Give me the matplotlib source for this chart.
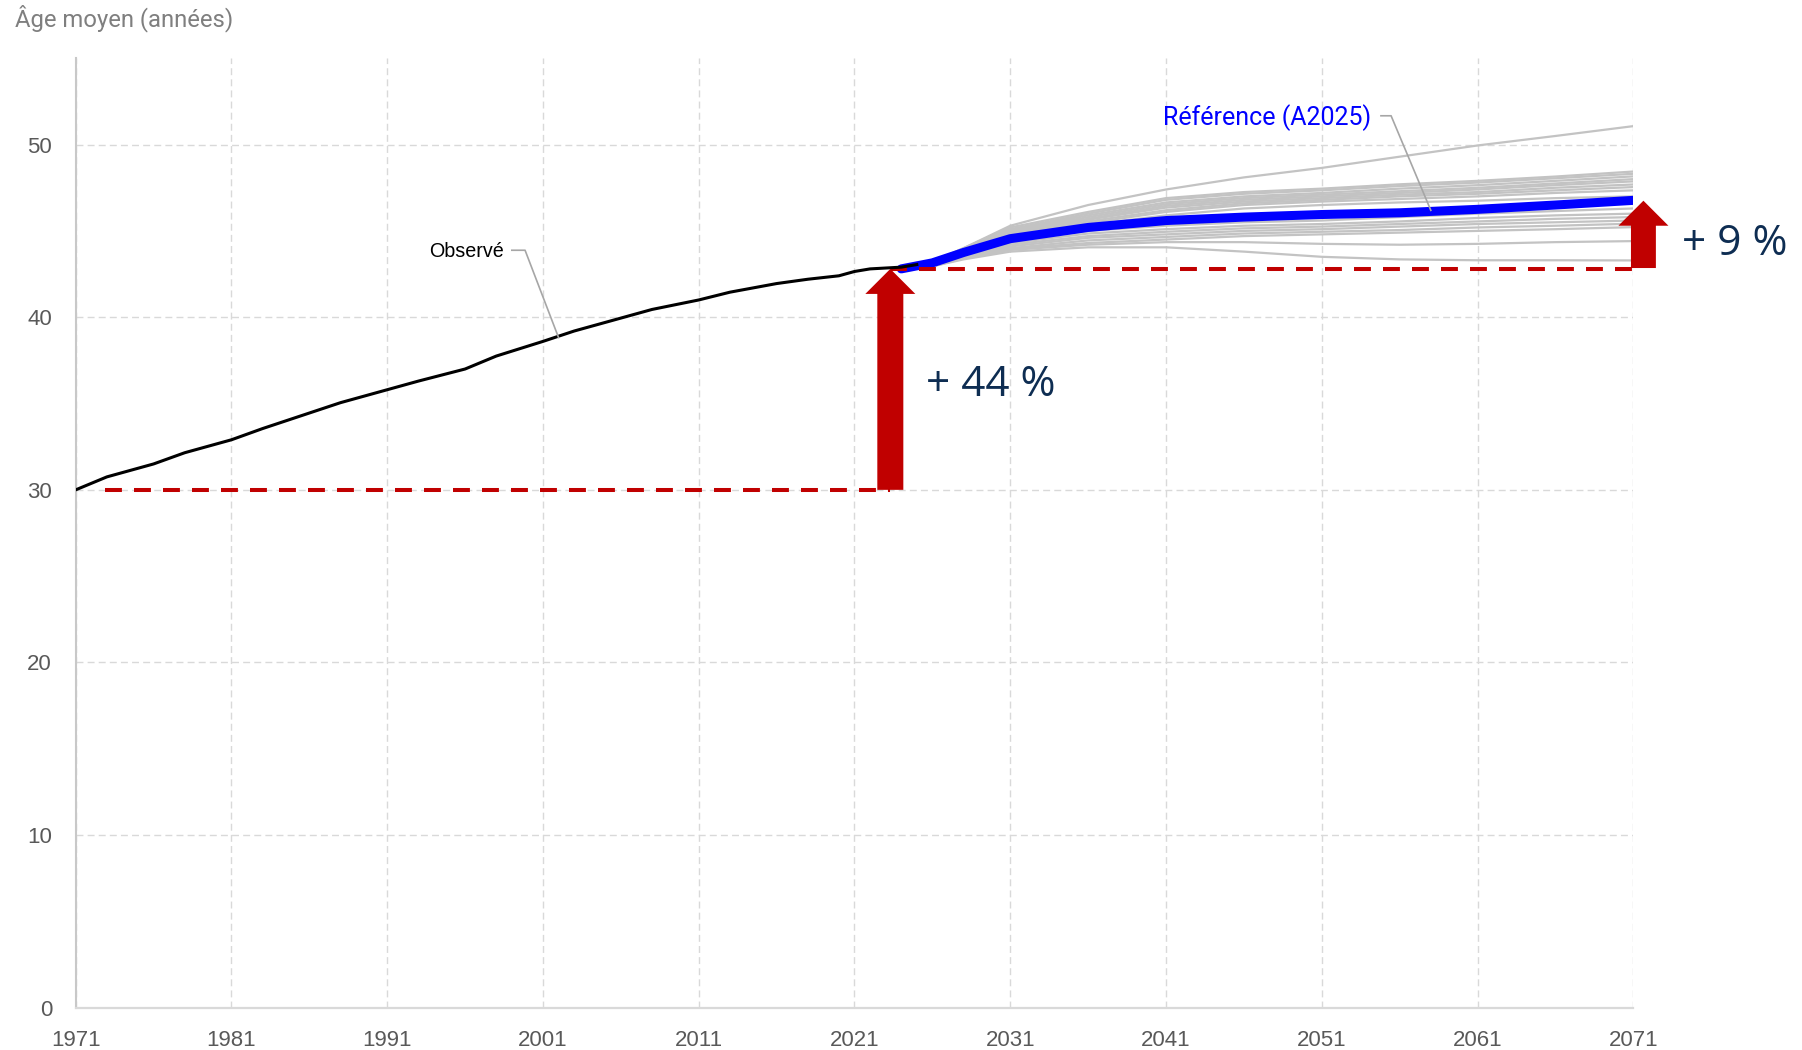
import matplotlib
matplotlib.use('Agg')
import matplotlib.pyplot as plt
from matplotlib.patches import FancyArrow

# ---------------- data ----------------
obs_years = [1971, 1973, 1976, 1978, 1981, 1983, 1986, 1988, 1991, 1993, 1996, 1998,
             2001, 2003, 2006, 2008, 2011, 2013, 2016, 2018, 2020, 2021, 2022, 2023, 2024, 2025]
obs_values = [30.0, 30.75, 31.5, 32.15, 32.9, 33.55, 34.45, 35.05, 35.8, 36.3, 37.0, 37.75,
              38.6, 39.2, 39.95, 40.45, 41.0, 41.45, 41.95, 42.2, 42.4, 42.65, 42.8, 42.85, 42.9, 43.05]

proj_years = [2024, 2026, 2028, 2031, 2036, 2041, 2046, 2051, 2056, 2061, 2066, 2071]
reference = [42.8, 43.15, 43.75, 44.55, 45.2, 45.6, 45.8, 45.95, 46.05, 46.25, 46.5, 46.77]

variants = [
    [42.8, 43.2, 44.0, 45.3, 46.5, 47.4, 48.1, 48.65, 49.3, 49.95, 50.5, 51.07],
    [42.8, 43.2, 44.0, 45.2, 46.1, 46.9, 47.25, 47.45, 47.7, 47.9, 48.15, 48.44],
    [42.8, 43.2, 43.95, 45.1, 46.0, 46.8, 47.15, 47.35, 47.6, 47.8, 48.05, 48.31],
    [42.8, 43.15, 43.9, 45.05, 45.9, 46.65, 47.0, 47.2, 47.45, 47.65, 47.9, 48.16],
    [42.8, 43.15, 43.9, 45.0, 45.8, 46.55, 46.9, 47.1, 47.3, 47.5, 47.75, 48.0],
    [42.8, 43.1, 43.85, 44.95, 45.7, 46.45, 46.8, 47.0, 47.2, 47.4, 47.65, 47.87],
    [42.8, 43.1, 43.8, 44.9, 45.65, 46.35, 46.7, 46.9, 47.1, 47.25, 47.5, 47.69],
    [42.8, 43.1, 43.8, 44.85, 45.55, 46.2, 46.6, 46.8, 47.0, 47.15, 47.35, 47.54],
    [42.8, 43.05, 43.75, 44.8, 45.45, 46.1, 46.5, 46.7, 46.85, 47.0, 47.2, 47.35],
    [42.8, 43.05, 43.7, 44.75, 45.35, 45.9, 46.3, 46.5, 46.65, 46.75, 46.9, 47.0],
    [42.8, 43.0, 43.6, 44.4, 45.0, 45.3, 45.5, 45.6, 45.8, 46.0, 46.15, 46.3],
    [42.8, 43.0, 43.55, 44.3, 44.85, 45.1, 45.3, 45.4, 45.55, 45.75, 45.9, 46.0],
    [42.8, 43.0, 43.5, 44.2, 44.7, 44.95, 45.15, 45.25, 45.4, 45.55, 45.7, 45.8],
    [42.8, 43.0, 43.5, 44.1, 44.6, 44.8, 45.0, 45.1, 45.25, 45.4, 45.5, 45.6],
    [42.8, 42.95, 43.45, 44.0, 44.45, 44.65, 44.85, 44.95, 45.05, 45.2, 45.3, 45.42],
    [42.8, 42.95, 43.45, 43.95, 44.3, 44.5, 44.7, 44.8, 44.9, 45.0, 45.1, 45.22],
    [42.8, 42.95, 43.4, 43.9, 44.2, 44.35, 44.35, 44.25, 44.2, 44.25, 44.35, 44.41],
    [42.8, 42.95, 43.35, 43.8, 44.05, 44.05, 43.8, 43.5, 43.35, 43.3, 43.3, 43.29],
]

x_ticks = [1971, 1981, 1991, 2001, 2011, 2021, 2031, 2041, 2051, 2061, 2071]
y_ticks = [0, 10, 20, 30, 40, 50]

base_1971 = 30.0
level_2023 = 42.8
ref_2071 = 46.75

# ---------------- figure ----------------
plt.rcParams['font.family'] = ['Liberation Sans Narrow', 'Liberation Sans', 'DejaVu Sans']

fig = plt.figure(figsize=(18.02, 10.5), dpi=100)
ax = fig.add_axes([0.04201, 0.04029, 0.86437, 0.90419])
ax.set_xlim(1971, 2071)
ax.set_ylim(0, 55)
ax.set_xticks(x_ticks)
ax.set_yticks(y_ticks)
ax.tick_params(length=0, labelsize=16, labelcolor='#595959')
ax.tick_params(axis='x', pad=16)
ax.tick_params(axis='y', pad=17)
ax.grid(True, color='#D9D9D9', linestyle=(0, (5, 3)), linewidth=1.0)
ax.set_axisbelow(True)
for s in ['top', 'right']:
    ax.spines[s].set_visible(False)
ax.spines['left'].set_color('#C8C8C8')
ax.spines['left'].set_linewidth(1.5)
ax.spines['bottom'].set_color('#D9D9D9')
ax.spines['bottom'].set_linewidth(1.6)

for v in variants:
    ax.plot(proj_years, v, color='#C3C3C3', lw=1.6, zorder=2, solid_capstyle='round')

ax.plot(proj_years, reference, color='#0000FF', lw=6.5, zorder=3, solid_capstyle='round')

red = '#C00000'
ax.plot([1972.9, 2023.3], [base_1971, base_1971], color=red, lw=2.9,
        linestyle=(0, (4.2, 3.0)), zorder=4)
ax.plot([2023.3, 2071], [level_2023, level_2023], color=red, lw=2.9,
        linestyle=(0, (4.2, 3.0)), zorder=4)

ax.plot(obs_years, obs_values, color='black', lw=2.2, zorder=5)

a1 = FancyArrow(2023.3, base_1971, 0, level_2023 - base_1971, width=1.67,
                head_width=3.21, head_length=1.45, length_includes_head=True,
                facecolor=red, edgecolor='none', zorder=6)
ax.add_patch(a1)
a2 = FancyArrow(2071.65, level_2023 + 0.05, 0, ref_2071 - level_2023 - 0.05, width=1.6,
                head_width=3.21, head_length=1.45, length_includes_head=True,
                facecolor=red, edgecolor='none', zorder=6, clip_on=False)
ax.add_patch(a2)

# labels and leaders
ax.text(1998.5, 43.83, 'Observé', ha='right', va='center', fontsize=14.2, color='black')
ax.plot([1999.0, 1999.85, 2002.0], [43.88, 43.88, 38.82], color='#A6A6A6', lw=1.2, zorder=6)

ax.text(2054.15, 51.58, 'Référence (A2025)', ha='right', va='center', fontsize=18,
        color='#0000FF', family=['Roboto', 'DejaVu Sans'])
ax.plot([2054.8, 2055.45, 2058.0], [51.67, 51.67, 46.19], color='#A6A6A6', lw=1.2, zorder=6)

navy = '#0E2D52'
ax.text(2025.6, 36.1, '+ 44 %', ha='left', va='center', fontsize=30.5, color=navy,
        family=['Open Sans', 'DejaVu Sans'])
ax.text(2074.1, 44.25, '+ 9 %', ha='left', va='center', fontsize=30.5, color=navy,
        family=['Open Sans', 'DejaVu Sans'], clip_on=False)

fig.text(15 / 1802, 1 - 18 / 1050, 'Âge moyen (années)', fontsize=17.2, color='#7F7F7F',
         family=['Roboto', 'DejaVu Sans'], ha='left', va='center')

fig.savefig('out.png', dpi=100)
